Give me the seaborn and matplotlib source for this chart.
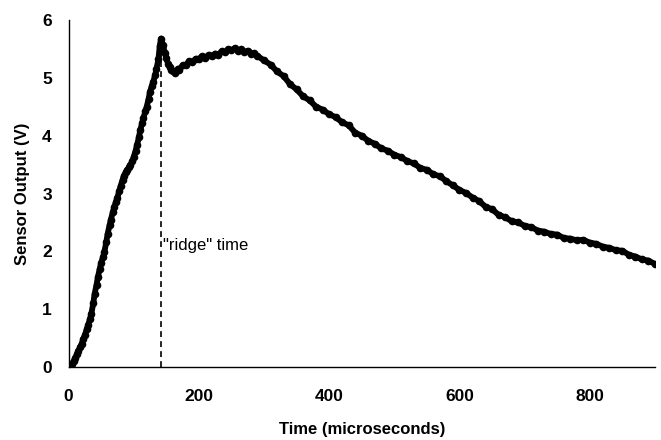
import matplotlib
matplotlib.use("Agg")
import matplotlib.pyplot as plt
import seaborn as sns
import pandas as pd

time_us = [0, 3, 5, 8, 10, 13, 15, 18, 20, 23, 25, 28, 30, 33, 35, 38, 40, 43, 45, 48,
           50, 53, 55, 58, 60, 63, 65, 68, 70, 73, 75, 78, 80, 83, 85, 88, 90, 93, 95, 98,
           100, 103, 105, 108, 110, 113, 115, 118, 120, 123, 125, 128, 130, 133, 135, 138,
           140, 142, 145, 148, 150, 153, 155, 158, 160, 163, 165, 168, 170, 175, 180, 185,
           190, 195, 200, 205, 210, 215, 220, 225, 230, 235, 240, 245, 250, 255, 260, 265,
           270, 275, 280, 285, 290, 300, 310, 320, 330, 340, 350, 360, 370, 380, 390, 400,
           410, 420, 430, 440, 450, 460, 470, 480, 490, 500, 510, 520, 530, 540, 550, 560,
           570, 580, 590, 600, 610, 620, 630, 640, 650, 660, 670, 680, 690, 700, 710, 720,
           730, 740, 750, 760, 770, 780, 790, 800, 810, 820, 830, 840, 850, 860, 870, 880,
           890, 900]
sensor_v = [0.00, 0.02, 0.06, 0.10, 0.15, 0.22, 0.27, 0.35, 0.40, 0.49, 0.55, 0.65, 0.72,
            0.83, 0.92, 1.10, 1.26, 1.42, 1.55, 1.70, 1.80, 1.90, 1.99, 2.16, 2.30, 2.45,
            2.55, 2.68, 2.76, 2.86, 2.93, 3.05, 3.13, 3.24, 3.31, 3.37, 3.41, 3.45, 3.49,
            3.56, 3.63, 3.74, 3.83, 3.97, 4.09, 4.22, 4.31, 4.42, 4.50, 4.64, 4.76, 4.86,
            4.93, 5.05, 5.16, 5.32, 5.55, 5.68, 5.56, 5.43, 5.34, 5.24, 5.18, 5.14, 5.12,
            5.09, 5.11, 5.16, 5.13, 5.22, 5.22, 5.29, 5.27, 5.33, 5.33, 5.37, 5.35, 5.40,
            5.37, 5.42, 5.40, 5.46, 5.44, 5.49, 5.48, 5.51, 5.46, 5.49, 5.45, 5.47, 5.42,
            5.43, 5.38, 5.30, 5.23, 5.11, 5.03, 4.89, 4.80, 4.68, 4.61, 4.50, 4.45, 4.37,
            4.32, 4.23, 4.18, 4.05, 4.00, 3.91, 3.86, 3.78, 3.74, 3.67, 3.63, 3.56, 3.52,
            3.44, 3.41, 3.33, 3.30, 3.21, 3.14, 3.06, 3.01, 2.93, 2.87, 2.77, 2.73, 2.63,
            2.59, 2.52, 2.50, 2.44, 2.42, 2.36, 2.34, 2.30, 2.29, 2.23, 2.22, 2.19, 2.20,
            2.15, 2.13, 2.08, 2.06, 2.02, 2.01, 1.94, 1.91, 1.86, 1.84, 1.78]

ridge_time = 142
ridge_top = 5.62
annotation = '"ridge" time'
x_label = "Time (microseconds)"
y_label = "Sensor Output (V)"
x_ticks = [0, 200, 400, 600, 800]
y_ticks = [0, 1, 2, 3, 4, 5, 6]

sns.set_theme(style="white")
plt.rcParams["font.family"] = ["Liberation Sans", "DejaVu Sans"]

df = pd.DataFrame({"t": time_us, "v": sensor_v})

fig = plt.figure(figsize=(6.61, 4.40), dpi=100)
ax = fig.add_axes([68.5 / 661, 73 / 440, (655 - 68.5) / 661, (367 - 20) / 440])

sns.lineplot(data=df, x="t", y="v", ax=ax, color="black", linewidth=4.2,
             marker="o", markersize=5.5, markeredgewidth=0, sort=False)

ax.plot([ridge_time, ridge_time], [0, ridge_top], color="black", linewidth=1.2,
        dashes=(3.5, 2.5), zorder=1)
ax.text(145, 2.1, annotation, fontsize=12, va="center", ha="left", color="black")

ax.set_xlim(0, 900)
ax.set_ylim(0, 6)
ax.set_xticks(x_ticks)
ax.set_yticks(y_ticks)
ax.set_xticklabels([str(t) for t in x_ticks], fontweight="bold", fontsize=12.5)
ax.set_yticklabels([str(t) for t in y_ticks], fontweight="bold", fontsize=12.5)
ax.tick_params(axis="x", direction="in", length=5, width=1, pad=16, colors="black")
ax.tick_params(axis="y", direction="in", length=5, width=1, pad=12, colors="black")
ax.set_xlabel(x_label, fontweight="bold", fontsize=12, labelpad=13, color="black")
ax.set_ylabel(y_label, fontweight="bold", fontsize=12, labelpad=9, color="black")

for side in ["top", "right"]:
    ax.spines[side].set_visible(False)
for side in ["left", "bottom"]:
    ax.spines[side].set_color("black")
    ax.spines[side].set_linewidth(1)

fig.savefig("out.png", dpi=100, facecolor="white")
